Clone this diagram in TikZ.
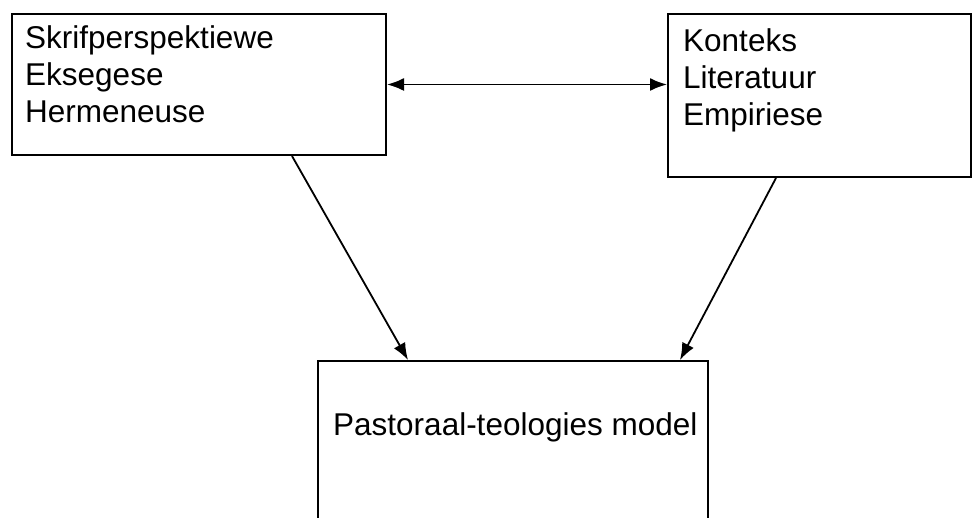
\documentclass[tikz,border=0pt]{standalone}
\usepackage{fontspec}
\setmainfont{Liberation Sans}
\usetikzlibrary{arrows.meta, positioning, calc}
\tikzset{
  % Box styles
  framebox/.style={rectangle, draw=black, line width=2pt, fill=white, anchor=north west, inner sep=0pt},
  boxtext/.style={inner sep=0pt, align=left, font=\fontsize{31.5}{37}\selectfont},
  % Arrow styles
  arrow/.style={-{Latex[length=17pt,width=13pt]}, line width=1.8pt, black},
  doublearrow/.style={{Latex[length=17pt,width=13pt]}-{Latex[length=17pt,width=13pt]}, line width=1.8pt, black}
}

\begin{document}
\begin{tikzpicture}[x=1pt, y=1pt]
  \useasboundingbox (0,0) rectangle (975,-518);
  \clip (0,0) rectangle (975,-518);

  % Source boxes
  \node[framebox, minimum width=374pt, minimum height=141pt] (skrif) at (11,-13) {};
  \node[boxtext, below right=12pt and 14pt of skrif.north west] (skriftext) {Skrifperspektiewe\\Eksegese\\Hermeneuse};

  \node[framebox, minimum width=303pt, minimum height=163pt] (konteks) at (667,-13) {};
  \node[boxtext, below right=15pt and 16pt of konteks.north west] (kontekstext) {Konteks\\Literatuur\\Empiriese};

  % Model box (cut off at the bottom)
  \node[framebox, minimum width=390pt, minimum height=220pt] (model) at (317,-360) {};
  \node[boxtext, below right=52pt and 16pt of model.north west] (modeltext) {Pastoraal-teologies model};

  % Connectors
  \draw[doublearrow] (skrif.east) -- (skrif.east -| konteks.west);
  \draw[arrow] ($(skrif.south west)+(281,0)$) -- ($(model.north west)+(91,0)$);
  \draw[arrow] ($(konteks.south west)+(109,0)$) -- ($(model.north east)+(-29,0)$);
\end{tikzpicture}
\end{document}
